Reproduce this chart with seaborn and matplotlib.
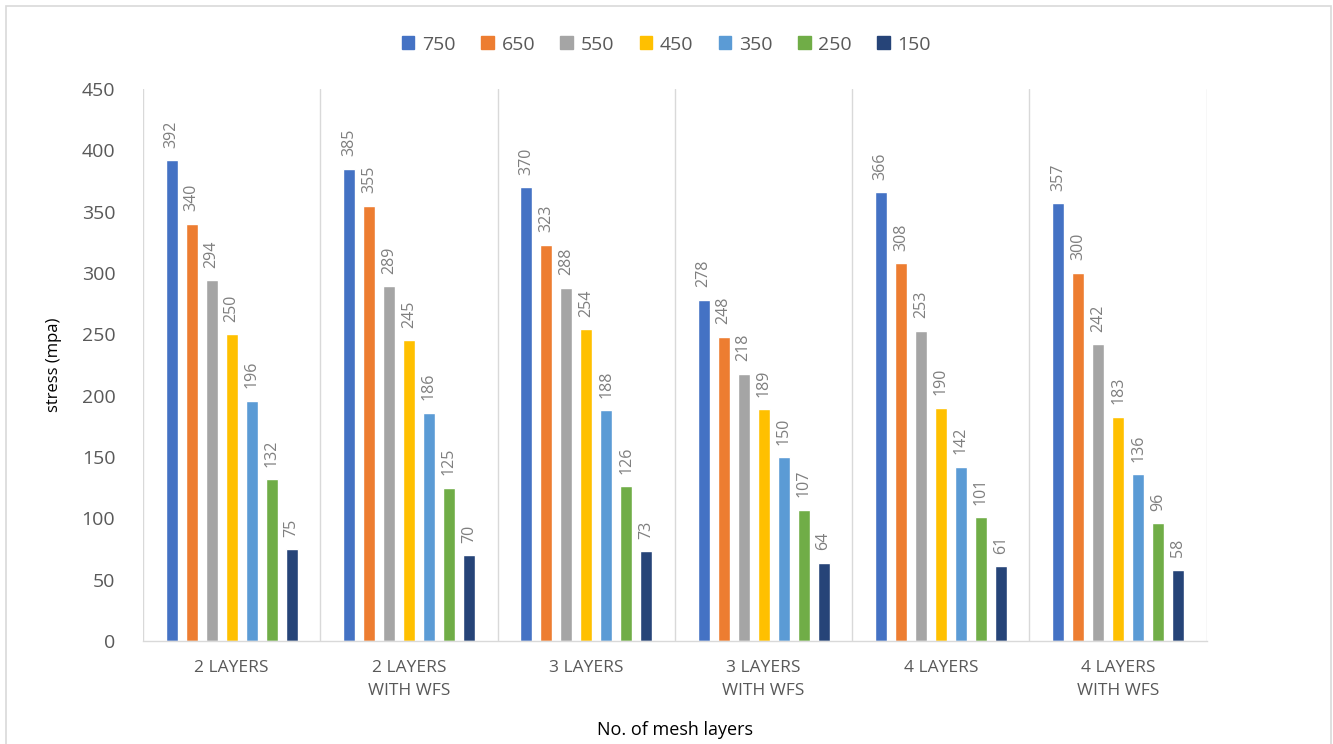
import matplotlib
matplotlib.use("Agg")
import matplotlib.pyplot as plt
from matplotlib.patches import Rectangle
import seaborn as sns
import pandas as pd

# Mesh layer configurations (x categories)
layers = ["2 LAYERS", "2 LAYERS\nWITH WFS", "3 LAYERS", "3 LAYERS\nWITH WFS",
          "4 LAYERS", "4 LAYERS\nWITH WFS"]
# Mesh sizes (series)
mesh_sizes = ["750", "650", "550", "450", "350", "250", "150"]

# Stress values per mesh size, one entry per layer configuration
s750 = [392, 385, 370, 278, 366, 357]
s650 = [340, 355, 323, 248, 308, 300]
s550 = [294, 289, 288, 218, 253, 242]
s450 = [250, 245, 254, 189, 190, 183]
s350 = [196, 186, 188, 150, 142, 136]
s250 = [132, 125, 126, 107, 101, 96]
s150 = [75, 70, 73, 64, 61, 58]

series = [s750, s650, s550, s450, s350, s250, s150]
colors = ["#4472C4", "#ED7D31", "#A5A5A5", "#FFC000", "#5B9BD5", "#70AD47", "#264478"]

rows = []
for size, vals in zip(mesh_sizes, series):
    for lay, v in zip(layers, vals):
        rows.append({"layer": lay, "mesh": size, "stress": v})
df = pd.DataFrame(rows)

sns.set_theme(style="white")
plt.rcParams["font.family"] = ["Open Sans", "DejaVu Sans"]

fig = plt.figure(figsize=(13.33, 7.44), dpi=100)
ax = fig.add_axes([0.1073, 0.1384, 0.798, 0.742])

sns.barplot(data=df, x="layer", y="stress", hue="mesh", order=layers,
            hue_order=mesh_sizes, palette=colors, saturation=1,
            width=0.79, gap=0.4, ax=ax, legend=False)

for cont in ax.containers:
    ax.bar_label(cont, rotation=90, padding=9, fontsize=11.5, color="#7f7f7f")

ax.set_ylim(0, 450)
ax.set_yticks(range(0, 451, 50))
ax.set_xlim(-0.5, len(layers) - 0.5)
ax.tick_params(axis="y", labelsize=14, labelcolor="#595959", length=0, pad=20)
ax.tick_params(axis="x", labelsize=12.5, labelcolor="#595959", length=0, pad=14)
for lbl in ax.get_xticklabels():
    lbl.set_linespacing(1.55)

# vertical separators between categories
ax.set_xticks([i - 0.5 for i in range(len(layers) + 1)], minor=True)
ax.tick_params(axis="x", which="minor", length=0)
ax.grid(axis="x", which="minor", color="#d9d9d9", linewidth=1)
ax.grid(axis="y", visible=False)
ax.grid(axis="x", which="major", visible=False)

for side in ["top", "left", "right"]:
    ax.spines[side].set_visible(False)
ax.spines["bottom"].set_color("#d9d9d9")
ax.spines["bottom"].set_linewidth(1)

ax.set_ylabel("stress (mpa)", fontsize=12, color="#000000", labelpad=14)
ax.set_xlabel("No. of mesh layers", fontsize=13, color="#000000", labelpad=16)

handles = [Rectangle((0, 0), 1, 1, color=c) for c in colors]
fig.legend(handles, mesh_sizes, loc="center", bbox_to_anchor=(0.5, 0.94),
           ncol=7, frameon=False, fontsize=14, handlelength=0.65,
           handleheight=0.65, columnspacing=1.3, handletextpad=0.4,
           labelcolor="#595959")

# chart-area border
fig.add_artist(Rectangle((6 / 1333, -0.01), (1331 - 6) / 1333, 1 - 6 / 744 + 0.01,
                         transform=fig.transFigure, fill=False,
                         edgecolor="#d9d9d9", linewidth=1.2))

fig.savefig("out.png", dpi=100, facecolor="white")
